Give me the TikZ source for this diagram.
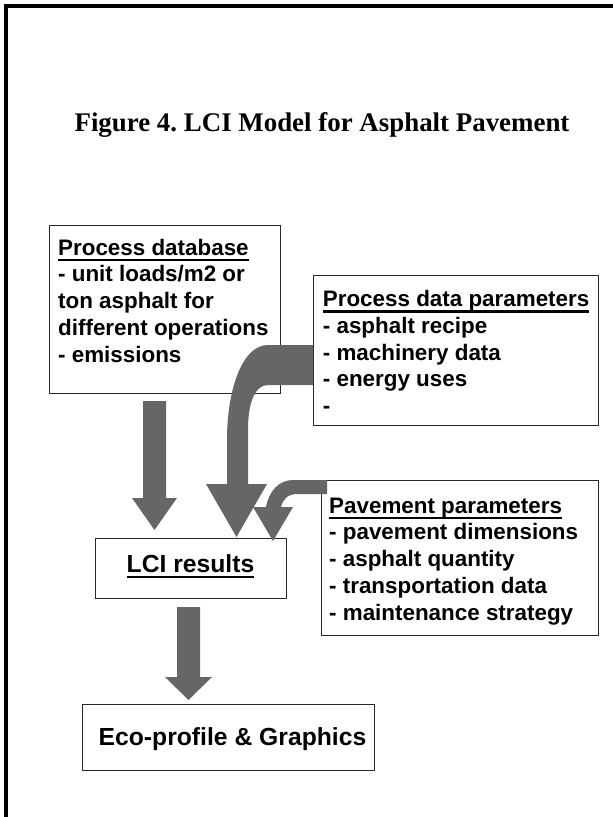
\documentclass[tikz,border=0pt]{standalone}
\usepackage{fontspec}
\setmainfont{Liberation Serif}
\newfontfamily\arialbold{Liberation Sans}[BoldFont={* Bold}]
\usetikzlibrary{calc}
\frenchspacing
\definecolor{arrowgray}{RGB}{102,102,102}
\definecolor{boxline}{RGB}{40,40,40}
% underlined heading inside a box
\newcommand\ulhead[1]{\setbox0=\hbox{#1}\rlap{\rule[-6pt]{\wd0}{2.4pt}}\box0}
\newcommand\biglines[1]{\begin{tabular}[t]{@{}l@{}}#1\end{tabular}}
\tikzset{
  box/.style={draw=boxline, line width=1pt, fill=white, rectangle, inner sep=0pt, anchor=north west},
  bodytext/.style={inner sep=0pt, anchor=base west, font=\arialbold\bfseries\fontsize{22.4}{26.75}\selectfont},
  bigtext/.style={inner sep=0pt, anchor=base, font=\arialbold\bfseries\fontsize{24.7}{29}\selectfont},
  blockarrow/.style={fill=arrowgray, draw=none},
  frameline/.style={line width=3.5pt, draw=black, line cap=rect}
}
\begin{document}
\begin{tikzpicture}[x=1pt, y=-1pt]
\useasboundingbox (0,0) rectangle (613,817);

% page frame
\draw[frameline] (6,817) -- (6,6) -- (613,6);

% title
\node[inner sep=0pt, anchor=base, font=\bfseries\fontsize{26.9}{30}\selectfont] (title) at (322,131)
  {Figure 4. LCI Model for Asphalt Pavement};

% boxes
\node[box, minimum width=231pt, minimum height=168pt] (db) at (49,225) {};
\node[box, minimum width=285pt, minimum height=150pt] (pdp) at (313,275) {};
\node[box, minimum width=277pt, minimum height=155pt] (pav) at (320.7,480) {};
\node[box, minimum width=191pt, minimum height=60pt] (lci) at (95,538) {};
\node[box, minimum width=292pt, minimum height=66pt] (eco) at (82,704) {};

% box texts
\node[bodytext] (dbtext) at (58,255) {\biglines{\ulhead{Process database}\\
- unit loads/m2 or\\ ton asphalt for\\ different operations\\ - emissions}};
\node[bodytext] (pdptext) at (322.7,306.7) {\biglines{\ulhead{Process data parameters}\\
- asphalt recipe\\ - machinery data\\ - energy uses\\ -}};
\node[bodytext] (pavtext) at (329,513) {\biglines{\ulhead{Pavement parameters}\\
- pavement dimensions\\ - asphalt quantity\\ - transportation data\\ - maintenance strategy}};
\node[bigtext] (lcitext) at (190.5,572) {\ulhead{LCI results}};
\node[bigtext] (ecotext) at (232.5,745) {Eco-profile \& Graphics};

% straight arrow: process database -> LCI results
\coordinate (a1s) at (154.5,401);
\coordinate (a1t) at (154.5,530);
\fill[blockarrow] ($(a1s)+(-11.5,0)$) -- ($(a1s)+(11.5,0)$) -- ($(a1t)+(11.5,-32)$)
  -- ($(a1t)+(22.5,-32)$) -- (a1t) -- ($(a1t)+(-22.5,-32)$) -- ($(a1t)+(-11.5,-32)$) -- cycle;

% curved arrow: process data parameters -> LCI results
\fill[blockarrow] (pdp.west |- 0,345) -- (268,345) .. controls (242,345) and (227,390) .. (227,440)
  -- (227,484) -- (206,484) -- (236.5,537) -- (267,484) -- (248,484) -- (248,430)
  .. controls (248,405) and (254,385) .. (268,385) -- (pdp.west |- 0,385) -- cycle;

% curved arrow: pavement parameters -> LCI results
\fill[blockarrow] (327,480) -- (293,480) .. controls (279,480) and (269,491) .. (266,507)
  -- (253,507) -- (273,541) -- (293,507) -- (281,507) .. controls (283,499) and (288,494) .. (297,494)
  -- (327,494) -- cycle;

% straight arrow: LCI results -> eco-profile
\coordinate (a4s) at (188.5,607);
\coordinate (a4t) at (188.5,700);
\fill[blockarrow] ($(a4s)+(-11.5,0)$) -- ($(a4s)+(11.5,0)$) -- ($(a4t)+(11.5,-23)$)
  -- ($(a4t)+(23.5,-23)$) -- (a4t) -- ($(a4t)+(-23.5,-23)$) -- ($(a4t)+(-11.5,-23)$) -- cycle;
\end{tikzpicture}
\end{document}
